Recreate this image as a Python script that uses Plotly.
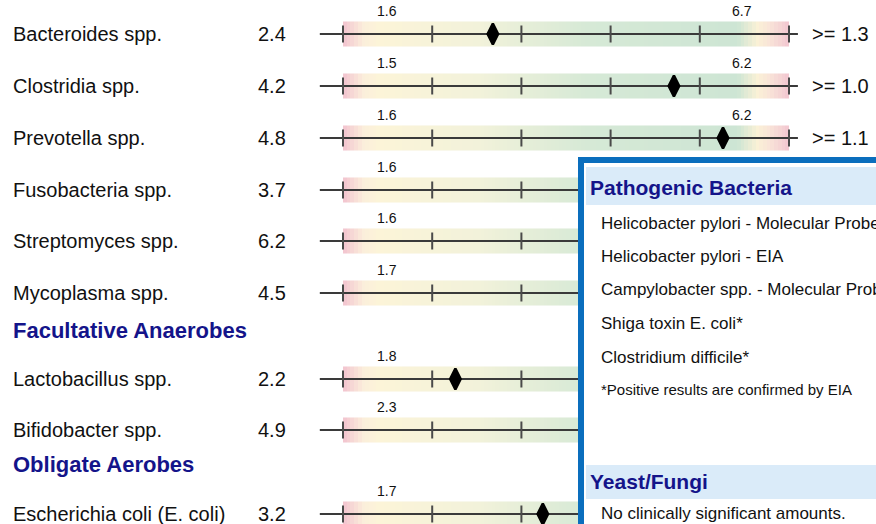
import plotly.graph_objects as go

# ---------------- data ----------------
organisms = ["Bacteroides spp.", "Clostridia spp.", "Prevotella spp.", "Fusobacteria spp.",
             "Streptomyces spp.", "Mycoplasma spp.", "Lactobacillus spp.", "Bifidobacter spp.",
             "Escherichia coli (E. coli)"]
values = ["2.4", "4.2", "4.8", "3.7", "6.2", "4.5", "2.2", "4.9", "3.2"]
low_limits = ["1.6", "1.5", "1.6", "1.6", "1.6", "1.7", "1.8", "2.3", "1.7"]
high_limits = ["6.7", "6.2", "6.2", None, None, None, None, None, None]
ref_ranges = [">= 1.3", ">= 1.0", ">= 1.1", None, None, None, None, None, None]
# marker position on the 0..5 graphic scale (None = hidden)
marker_pos = [1.68, 3.71, 4.26, None, None, None, 1.26, None, 2.24]
track_ticks = [0, 1, 2, 3, 4, 5]

section_headers = ["Obligate Anaerobes", "Facultative Anaerobes", "Obligate Aerobes"]
pathogen_title = "Pathogenic Bacteria"
pathogens = ["Helicobacter pylori - Molecular Probe", "Helicobacter pylori - EIA",
             "Campylobacter spp. - Molecular Probe", "Shiga toxin E. coli*",
             "Clostridium difficile*"]
pathogen_note = "*Positive results are confirmed by EIA"
fungi_title = "Yeast/Fungi"
fungi_text = "No clinically significant amounts."

# ---------------- layout constants ----------------
W, H = 876, 524
PX0, PXU = 343.0, 89.2          # pixel of scale 0, pixels per unit
row_y = [34, 86, 138, 190, 241, 293, 379, 430, 514]
header_y = [-9, 330, 464]
NAVY = "#14148a"
FONT = "Liberation Sans, Arial, sans-serif"

fig = go.Figure()

# gradient bands
n = 120
edges = [5 * i / n for i in range(n + 1)]
mids = [[(edges[i] + edges[i + 1]) / 2 for i in range(n)]]
cscale = [[0.0, "#f2c3cf"], [0.045, "#fbeedb"], [0.08, "#fcf4d8"],
          [0.3, "#f2f2da"], [0.55, "#d6e9d6"], [0.885, "#cde5d4"],
          [0.93, "#fbf1d6"], [0.96, "#f8e2d8"], [1.0, "#f2c6d0"]]
for y in row_y:
    fig.add_trace(go.Heatmap(x=edges, y=[y - 12.5, y + 12.5], z=mids, zmin=0, zmax=5,
                             colorscale=cscale, showscale=False, hoverinfo="skip"))

# track lines
lx, ly = [], []
for y in row_y:
    lx += [-0.26, 5.1, None]
    ly += [y, y, None]
fig.add_trace(go.Scatter(x=lx, y=ly, mode="lines", line=dict(color="#3a3a3a", width=2),
                         hoverinfo="skip", showlegend=False))
# ticks
tx, ty = [], []
for y in row_y:
    for t in track_ticks:
        tx += [t, t, None]
        ty += [y - 8.5, y + 8.5, None]
fig.add_trace(go.Scatter(x=tx, y=ty, mode="lines", line=dict(color="#4a4a4a", width=2),
                         hoverinfo="skip", showlegend=False))
# markers
mx = [p for p in marker_pos if p is not None]
my = [y for p, y in zip(marker_pos, row_y) if p is not None]
fig.add_trace(go.Scatter(x=mx, y=my, mode="markers",
                         marker=dict(symbol="diamond-tall", size=15, color="black",
                                     line=dict(color="black", width=2.5)),
                         hoverinfo="skip", showlegend=False))

def paper_x(xp):
    return xp / W

ann = []
def text(xp, y, s, size, color="#111111", bold=False, anchor="left"):
    ann.append(dict(x=paper_x(xp), xref="paper", y=y, yref="y",
                    text=("<b>%s</b>" % s) if bold else s,
                    showarrow=False, xanchor=anchor, yanchor="middle",
                    borderpad=0, borderwidth=0,
                    font=dict(family=FONT, size=size, color=color)))

for name, val, lo, hi, rr, y in zip(organisms, values, low_limits, high_limits, ref_ranges, row_y):
    text(13, y, name, 20)
    text(286, y, val, 20, anchor="right")
    text(387, y - 23, lo, 14, anchor="center")
    if hi is not None:
        text(742, y - 23, hi, 14, anchor="center")
    if rr is not None:
        text(812, y, rr, 20)

for h, y in zip(section_headers, header_y):
    text(13, y, h, 22, NAVY, bold=True)

# right-hand box
shapes = [
    dict(type="rect", xref="paper", yref="y", x0=paper_x(578), x1=1.05, y0=157, y1=570,
         fillcolor="white", line=dict(width=0), layer="above"),
    dict(type="rect", xref="paper", yref="y", x0=paper_x(586), x1=1.05, y0=167, y1=205,
         fillcolor="#daebf9", line=dict(width=0), layer="above"),
    dict(type="rect", xref="paper", yref="y", x0=paper_x(586), x1=1.05, y0=465, y1=499,
         fillcolor="#daebf9", line=dict(width=0), layer="above"),
    dict(type="rect", xref="paper", yref="y", x0=paper_x(581), x1=1.05, y0=160, y1=570,
         fillcolor="rgba(0,0,0,0)", line=dict(width=6, color="#0a6ebd"), layer="above"),
]

text(590, 187, pathogen_title, 21, NAVY, bold=True)
path_y = [223, 256, 289, 323, 357]
for s, y in zip(pathogens, path_y):
    text(601, y, s, 17)
text(601, 389, pathogen_note, 15)
text(590, 481, fungi_title, 21, NAVY, bold=True)
text(601, 513, fungi_text, 17)

fig.update_layout(
    width=W, height=H, margin=dict(l=0, r=0, t=0, b=0),
    paper_bgcolor="white", plot_bgcolor="white",
    xaxis=dict(range=[-PX0 / PXU, (W - PX0) / PXU], visible=False, fixedrange=True),
    yaxis=dict(range=[H, 0], visible=False, fixedrange=True),
    showlegend=False, annotations=ann, shapes=shapes,
)
fig.write_html("out.html", config={"displayModeBar": False},
               post_script="document.body.style.margin='0';document.body.style.overflow='hidden';")
